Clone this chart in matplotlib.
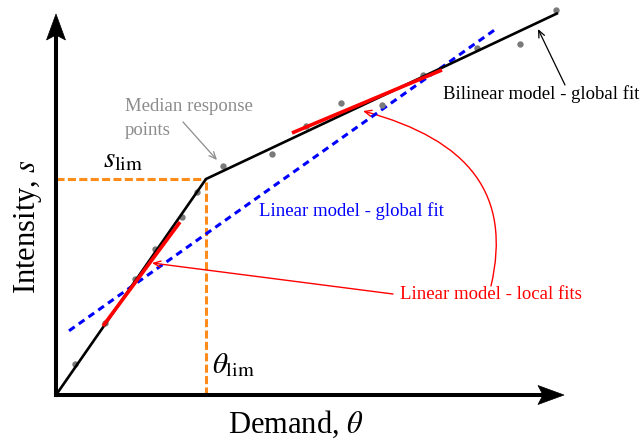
import matplotlib
matplotlib.use("Agg")
import matplotlib.pyplot as plt
import numpy as np
from matplotlib.patches import FancyArrowPatch, Polygon
from matplotlib.path import Path

plt.rcParams['font.family'] = ['Liberation Serif', 'DejaVu Serif']
plt.rcParams['mathtext.fontset'] = 'stix'
plt.rcParams['lines.scale_dashes'] = False

# Median response points (demand theta, intensity s)
theta_pts = [0.38, 0.98, 1.58, 1.98, 2.52, 2.82, 3.34, 4.32, 5.00, 5.70, 6.52, 7.34, 8.42, 9.28, 10.00]
s_pts = [0.62, 1.44, 2.32, 2.92, 3.56, 4.06, 4.58, 4.82, 5.38, 5.84, 5.80, 6.40, 6.94, 7.02, 7.70]

# Bilinear global fit: origin -> knee (theta_lim, s_lim) -> end
theta_lim = 3.00
s_lim = 4.32
bilin_theta = [0.0, theta_lim, 10.04]
bilin_s = [0.0, s_lim, 7.64]

# Linear global fit
glob_slope, glob_icpt = 0.707, 1.10
glob_range = [0.26, 8.80]

# Linear local fits (slope, intercept, theta range)
local_fits = [
    (1.35, 0.111, [0.94, 2.48]),
    (0.42, 3.258, [4.72, 7.72]),
]

# Axis arrow extents
x_axis_end = 10.16
y_axis_end = 7.62

fig = plt.figure(figsize=(6.43, 4.46), dpi=100)
ax = fig.add_axes([0, 0, 1, 1])
ax.set_xlim(-1.12, 11.74)
ax.set_ylim(-1.02, 7.90)
ax.axis('off')


def axis_arrow(ax, end, horizontal):
    """Axis line from the origin with a notched (stealth) head."""
    L, W, N = 0.52, 0.19, 0.42
    if horizontal:
        ax.plot([0, end - N], [0, 0], color='black', lw=2.9, solid_capstyle='projecting', zorder=5)
        head = [(end, 0), (end - L, W), (end - N, 0), (end - L, -W)]
    else:
        ax.plot([0, 0], [0, end - N], color='black', lw=2.9, solid_capstyle='projecting', zorder=5)
        head = [(0, end), (W, end - L), (0, end - N), (-W, end - L)]
    ax.add_patch(Polygon(head, closed=True, facecolor='black', edgecolor='black', lw=0.5, zorder=6))


axis_arrow(ax, x_axis_end, True)
axis_arrow(ax, y_axis_end, False)

# Limit guide lines
ax.plot([0, theta_lim], [s_lim, s_lim], color='#ff8c1a', lw=2.2, dashes=(5.8, 2.4), zorder=2)
ax.plot([theta_lim, theta_lim], [0, s_lim], color='#ff8c1a', lw=2.2, dashes=(5.8, 2.4), zorder=2)

# Global linear fit
gx = np.array(glob_range)
ax.plot(gx, glob_slope * gx + glob_icpt, color='#0000ff', lw=2.2, dashes=(5.0, 3.6), zorder=3)

# Bilinear fit
ax.plot(bilin_theta, bilin_s, color='black', lw=1.9, zorder=4, solid_capstyle='butt')

# Local fits
for slope, icpt, rng in local_fits:
    lx = np.array(rng)
    ax.plot(lx, slope * lx + icpt, color='#ff0000', lw=2.6, zorder=4, solid_capstyle='butt')

# Points
ax.plot(theta_pts, s_pts, 'o', color='#7a7a7a', ms=4.6, mec='none', zorder=3)

# Labels
ax.text(4.80, -0.76, r'Demand, $\theta$', fontsize=22, ha='center', va='baseline')
ax.text(-0.56, 3.38, r'Intensity, $s$', fontsize=22, ha='center', va='center', rotation=90)
ax.text(0.94, 4.56, r'$s_{\rm lim}$', fontsize=21, ha='left', va='baseline')
ax.text(3.12, 0.44, r'$\theta_{\rm lim}$', fontsize=21, ha='left', va='baseline')

# Annotations
fs = 13.5
ax.text(1.38, 5.68, 'Median response', fontsize=fs, color='#8c8c8c', ha='left', va='baseline')
ax.text(1.38, 5.20, 'points', fontsize=fs, color='#8c8c8c', ha='left', va='baseline')
ax.annotate('', xy=(3.22, 4.70), xytext=(2.54, 5.46),
            arrowprops=dict(arrowstyle='->,head_length=0.5,head_width=0.22', color='#8c8c8c', lw=0.9,
                            shrinkA=0, shrinkB=0))

ax.text(7.74, 5.92, 'Bilinear model - global fit', fontsize=fs, color='black', ha='left', va='baseline')
ax.annotate('', xy=(9.64, 7.32), xytext=(10.18, 6.20),
            arrowprops=dict(arrowstyle='->,head_length=0.5,head_width=0.22', color='black', lw=0.9,
                            shrinkA=0, shrinkB=0))

ax.text(4.06, 3.58, 'Linear model - global fit', fontsize=fs, color='#0000ff', ha='left', va='baseline')

ax.text(6.88, 1.92, 'Linear model - local fits', fontsize=fs, color='#ff0000', ha='left', va='baseline')
ax.annotate('', xy=(1.92, 2.64), xytext=(6.74, 2.02),
            arrowprops=dict(arrowstyle='->,head_length=0.5,head_width=0.22', color='#ff0000', lw=1.0,
                            shrinkA=0, shrinkB=0))
curve = Path([(8.70, 2.18), (9.12, 4.00), (8.28, 5.10), (6.14, 5.68)],
             [Path.MOVETO, Path.CURVE4, Path.CURVE4, Path.CURVE4])
ax.add_patch(FancyArrowPatch(path=curve, arrowstyle='->,head_length=0.5,head_width=0.22',
                             mutation_scale=10, color='#ff0000', lw=1.0, transform=ax.transData))

fig.savefig('out.png', dpi=100)
